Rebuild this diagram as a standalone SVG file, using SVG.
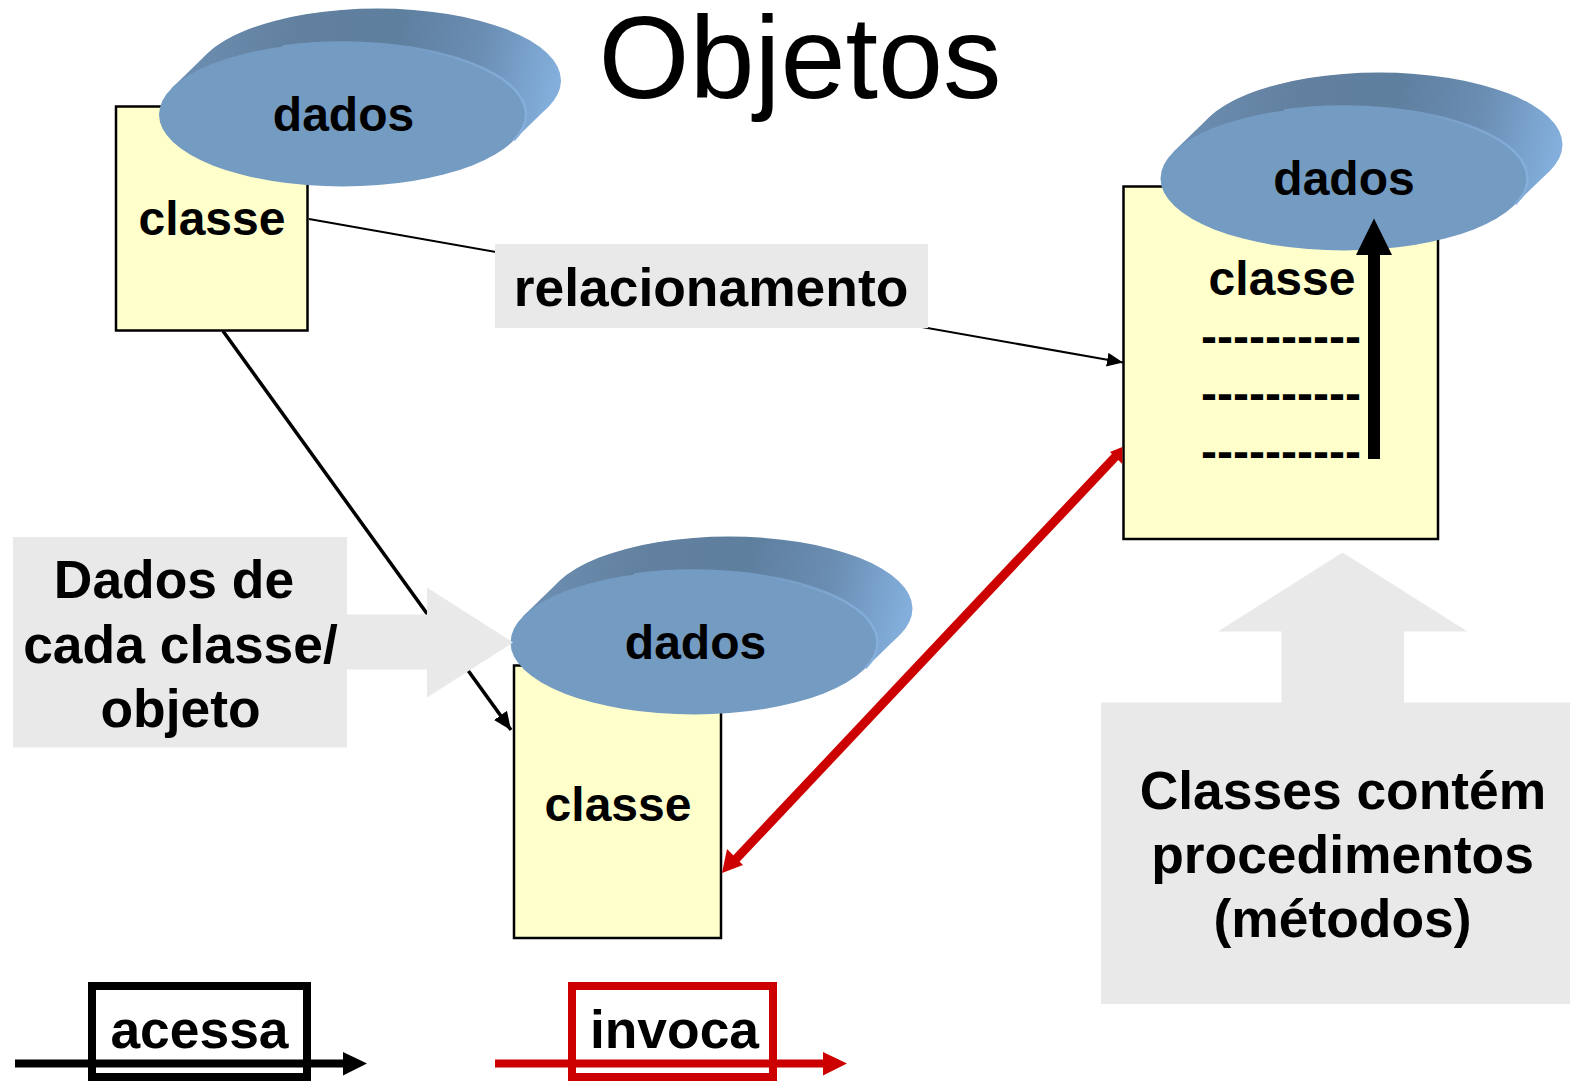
<svg xmlns="http://www.w3.org/2000/svg" width="1570" height="1081" viewBox="0 0 1570 1081">
  <style>
    text { font-family: "Liberation Sans", Arial, sans-serif; font-weight: bold; font-size: 48px; fill: #000; text-anchor: middle; }
    .big { font-size: 53.4px; }
    .title { font-size: 117px; font-weight: normal; }
    .cls { fill: #ffffcc; stroke: #000; stroke-width: 2.5; }
    .call { fill: #e9e9e9; }
    .link { fill: none; stroke: #000; }
    .red { fill: none; stroke: #cc0000; }
    .legend { fill: none; stroke-width: 8; }
  </style>
  <defs>
    <linearGradient id="side" gradientUnits="userSpaceOnUse" x1="-175" y1="-70" x2="215" y2="20">
      <stop offset="0" stop-color="#6f91b5"/>
      <stop offset="0.3" stop-color="#62809f"/>
      <stop offset="0.55" stop-color="#5f7f9f"/>
      <stop offset="0.76" stop-color="#6a8db2"/>
      <stop offset="0.9" stop-color="#7ba4cf"/>
      <stop offset="0.97" stop-color="#84afdc"/>
    </linearGradient>
    <linearGradient id="rim" gradientUnits="userSpaceOnUse" x1="-100" y1="0" x2="180" y2="0">
      <stop offset="0" stop-color="#749bc2"/>
      <stop offset="0.6" stop-color="#749bc2"/>
      <stop offset="1" stop-color="#86aedb"/>
    </linearGradient>
    <g id="disk">
      <path d="M-171.4,-25.7 L-136.4,-59.7 A183.5,72 0 0 1 206.4,-8.3 L171.4,25.7 Z" fill="url(#side)"/>
      <ellipse cx="35" cy="-34" rx="183.5" ry="72" fill="url(#side)"/>
      <ellipse rx="183.5" ry="72" fill="#749bc2"/>
      <path d="M-60,-68 A183.5,72 0 0 1 171.4,25.7" fill="none" stroke="url(#rim)" stroke-width="2.5"/>
    </g>
    <marker id="hSmall" markerUnits="userSpaceOnUse" markerWidth="18" markerHeight="16" refX="16" refY="7" orient="auto">
      <path d="M0,0 L16,7 L0,14 Z" fill="#000"/>
    </marker>
    <marker id="hMid" markerUnits="userSpaceOnUse" markerWidth="20" markerHeight="18" refX="18" refY="8" orient="auto">
      <path d="M0,0 L18,8 L0,16 Z" fill="#000"/>
    </marker>
  </defs>
  <rect width="1570" height="1081" fill="#fff"/>
  <text class="title" x="800" y="98">Objetos</text>

  <g id="obj1">
    <rect class="cls" x="116" y="106.500" width="191.500" height="224"/>
    <use href="#disk" x="342.500" y="114.500"/>
    <text x="343.500" y="130.500">dados</text>
    <text x="212" y="234.500">classe</text>
  </g>
  <g id="obj2">
    <rect class="cls" x="514" y="665.500" width="207" height="272.500"/>
    <use href="#disk" x="694" y="642.500"/>
    <text x="695.500" y="658.500">dados</text>
    <text x="618" y="820.500">classe</text>
  </g>
  <g id="obj3">
    <rect class="cls" x="1123.500" y="186.500" width="314.500" height="352.500"/>
    <use href="#disk" x="1344" y="178.500"/>
    <text x="1344" y="194.500">dados</text>
    <text x="1282" y="294.500">classe</text>
    <text x="1281" y="353">----------</text>
    <text x="1281" y="410">----------</text>
    <text x="1281" y="468">----------</text>
  </g>

  <g id="connectors">
    <path class="link" stroke-width="2" d="M309,219 L1123,362.500" marker-end="url(#hSmall)"/>
    <path class="link" stroke-width="3.500" d="M223,331 L511,730" marker-end="url(#hMid)"/>
    <path class="red" stroke-width="9" d="M1116,456 L736,859"/>
    <path d="M1110,452 L1122.300,447 V464 Z" fill="#cc0000"/>
    <path d="M722,873 L727,849 L743,865 Z" fill="#cc0000"/>
    <path d="M1368,459 V255 H1356 L1374,218.500 L1392,255 H1380 V459 Z" fill="#000"/>
  </g>

  <g id="note-relacionamento">
    <rect class="call" x="495" y="244" width="433" height="84"/>
    <text class="big" x="711" y="306">relacionamento</text>
  </g>
  <g id="note-dados">
    <path class="call" d="M13,537 H347 V614.500 H427 V587.500 L513,642.500 L427,697.500 V669.500 H347 V747.500 H13 Z"/>
    <text class="big" x="174" y="598">Dados de</text>
    <text class="big" x="180.500" y="662.500">cada classe/</text>
    <text class="big" x="180.500" y="726.500">objeto</text>
  </g>
  <g id="note-metodos">
    <path class="call" d="M1101,702.500 H1281.500 V631.500 H1218 L1342.500,552.500 L1467.500,631.500 H1404 V702.500 H1570 V1004 H1101 Z"/>
    <text class="big" x="1343" y="809">Classes contém</text>
    <text class="big" x="1342.500" y="873">procedimentos</text>
    <text class="big" x="1342.500" y="937">(métodos)</text>
  </g>

  <g id="legend-acessa">
    <rect class="legend" stroke="#000" x="92" y="986" width="215" height="91"/>
    <path d="M15,1059.500 H343 V1052 L367,1063.500 L343,1075.500 V1067.500 H15 Z" fill="#000"/>
    <text class="big" x="199.500" y="1047.500">acessa</text>
  </g>
  <g id="legend-invoca">
    <rect class="legend" stroke="#cc0000" x="572" y="986" width="201" height="91"/>
    <path d="M495,1059.500 H823 V1052 L847,1063.500 L823,1075.500 V1067.500 H495 Z" fill="#cc0000"/>
    <text class="big" x="674.500" y="1047.500">invoca</text>
  </g>
</svg>
